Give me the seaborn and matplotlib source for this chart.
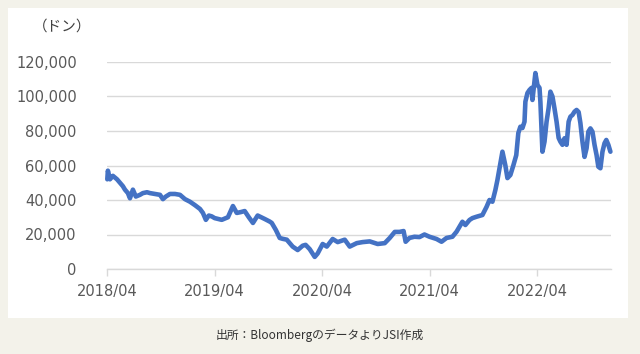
import pandas as pd
import matplotlib
matplotlib.use("Agg")
import matplotlib.pyplot as plt
import matplotlib.dates as mdates
from matplotlib.patches import Rectangle
from matplotlib.ticker import FuncFormatter
import seaborn as sns

# price series
dates = [
    "2018-04-01", "2018-04-03", "2018-04-10", "2018-04-20", "2018-05-04", "2018-05-14",
    "2018-05-24", "2018-05-31", "2018-06-10", "2018-06-17", "2018-06-27", "2018-07-07",
    "2018-07-21", "2018-07-31", "2018-08-14", "2018-08-24", "2018-09-10", "2018-09-27",
    "2018-10-07", "2018-10-17", "2018-10-31", "2018-11-17", "2018-12-04", "2018-12-21",
    "2019-01-07", "2019-01-24", "2019-02-10", "2019-02-20", "2019-03-02", "2019-03-12",
    "2019-03-22", "2019-04-01", "2019-04-25", "2019-05-16", "2019-06-02", "2019-06-15",
    "2019-06-29", "2019-07-12", "2019-07-26", "2019-08-09", "2019-08-25", "2019-09-18",
    "2019-10-05", "2019-10-12", "2019-10-26", "2019-11-08", "2019-11-18", "2019-12-02",
    "2019-12-12", "2019-12-22", "2020-01-08", "2020-01-25", "2020-02-04", "2020-02-18",
    "2020-03-06", "2020-03-16", "2020-04-02", "2020-04-16", "2020-05-06", "2020-05-23",
    "2020-06-16", "2020-07-03", "2020-07-27", "2020-08-16", "2020-09-09", "2020-10-06",
    "2020-10-30", "2020-11-16", "2020-12-03", "2020-12-19", "2021-01-02", "2021-01-09",
    "2021-01-22", "2021-02-08", "2021-02-25", "2021-03-14", "2021-03-31", "2021-04-24",
    "2021-05-11", "2021-05-28", "2021-06-17", "2021-07-01", "2021-07-11", "2021-07-21",
    "2021-07-31", "2021-08-14", "2021-08-24", "2021-09-07", "2021-09-27", "2021-10-11",
    "2021-10-21", "2021-10-31", "2021-11-10", "2021-11-17", "2021-11-27", "2021-12-04",
    "2021-12-14", "2021-12-21", "2021-12-31", "2022-01-10", "2022-01-20", "2022-01-27",
    "2022-02-03", "2022-02-10", "2022-02-17", "2022-02-20", "2022-02-27", "2022-03-06",
    "2022-03-13", "2022-03-16", "2022-03-23", "2022-03-26", "2022-04-02", "2022-04-09",
    "2022-04-12", "2022-04-16", "2022-04-19", "2022-04-26", "2022-05-03", "2022-05-10",
    "2022-05-16", "2022-05-23", "2022-05-30", "2022-06-06", "2022-06-13", "2022-06-19",
    "2022-06-26", "2022-07-03", "2022-07-10", "2022-07-17", "2022-07-23", "2022-07-30",
    "2022-08-06", "2022-08-13", "2022-08-20", "2022-08-26", "2022-09-02", "2022-09-09",
    "2022-09-16", "2022-09-22", "2022-09-29", "2022-10-06", "2022-10-13", "2022-10-20",
    "2022-10-26", "2022-11-02", "2022-11-09", "2022-11-16", "2022-11-22", "2022-11-29",
    "2022-12-06",
]
prices = [
    52000, 57000, 52000, 54000, 52000, 50000,
    48000, 46000, 44000, 41000, 46000, 42000,
    43000, 44000, 44500, 44000, 43500, 43000,
    40500, 42000, 43500, 43500, 43000, 40500,
    39000, 37000, 34800, 32500, 28500, 31000,
    30500, 29500, 28500, 30000, 36500, 32500,
    33000, 33600, 30000, 26700, 31000, 29000,
    27500, 26700, 22600, 18000, 17500, 17000,
    15000, 13000, 11000, 13500, 14000, 11500,
    7000, 9000, 14500, 13000, 17400, 15600,
    17000, 13000, 15000, 15600, 16000, 14500,
    15000, 18000, 21500, 21500, 22000, 15800,
    18000, 18700, 18500, 20000, 18700, 17400,
    15800, 18000, 18700, 21600, 24500, 27400,
    25500, 28400, 29500, 30300, 31300, 36000,
    40000, 39000, 45800, 51600, 61400, 68000,
    60000, 52700, 54500, 60000, 66000, 78800,
    82500, 81700, 85400, 97000, 102000, 103800,
    105000, 98000, 108600, 113600, 106700, 105000,
    97000, 79600, 68000, 73800, 85400, 93300,
    102800, 100000, 93000, 85400, 76000, 73800,
    72000, 75800, 72000, 85400, 88300, 89300,
    91200, 92200, 91000, 84600, 73800, 65000,
    70000, 79600, 81500, 79600, 72000, 66000,
    59300, 58400, 68000, 72900, 74800, 72000,
    68000,
]
xticks = ["2018-04-01", "2019-04-01", "2020-04-01", "2021-04-01", "2022-04-01"]
yticks = [0, 20000, 40000, 60000, 80000, 100000, 120000]

df = pd.DataFrame({"date": pd.to_datetime(dates), "price": prices})

sns.set_theme(style="white")
plt.rcParams['font.family'] = ['DejaVu Sans', 'Noto Sans CJK JP']

bg = "#f3f2ea"
fig = plt.figure(figsize=(6.4, 3.54), dpi=100, facecolor=bg)
fig.patches.append(Rectangle((8 / 640, 36 / 354), 620 / 640, 310 / 354,
                             transform=fig.transFigure, facecolor="white",
                             edgecolor="none", zorder=-5))

ax = fig.add_axes([107.3 / 640, 85 / 354, (611 - 107.3) / 640, 207 / 354])
ax.set_facecolor("none")
ax.set_zorder(2)

sns.lineplot(data=df, x="date", y="price", color="#4472C4", linewidth=3.3, ax=ax,
             clip_on=False, zorder=3)

ax.set_xlim(pd.Timestamp("2018-04-01"), pd.Timestamp("2022-12-08"))
ax.set_ylim(0, 120000)
ax.set_xticks(pd.to_datetime(xticks))
ax.xaxis.set_major_formatter(mdates.DateFormatter("%Y/%m"))
ax.set_yticks(yticks)
ax.yaxis.set_major_formatter(FuncFormatter(lambda v, p: f"{int(v):,}"))

ax.grid(axis="y", color="#d9d9d9", linewidth=1)
ax.set_axisbelow(True)
for s in ["top", "right", "left"]:
    ax.spines[s].set_visible(False)
ax.spines["bottom"].set_color("#d9d9d9")
ax.spines["bottom"].set_linewidth(1)

ax.tick_params(axis="x", bottom=True, length=5, width=1, color="#d9d9d9",
               pad=6, labelsize=10.5, labelcolor="#595959")
ax.tick_params(axis="y", left=False, length=0, pad=22, labelsize=10.5,
               labelcolor="#595959")
ax.set_xlabel("")
ax.set_ylabel("")

fig.text(62 / 640, 1 - 27 / 354, "（ドン）", ha="center", va="center",
         fontsize=10.5, color="#404040", family=['Noto Sans CJK JP', 'DejaVu Sans'])
fig.text(0.5, 1 - 335 / 354, "出所：BloombergのデータよりJSI作成", ha="center",
         va="center", fontsize=8.5, color="#333333",
         family=['Noto Sans CJK JP', 'DejaVu Sans'])

fig.savefig("out.png", dpi=100, facecolor=bg)
